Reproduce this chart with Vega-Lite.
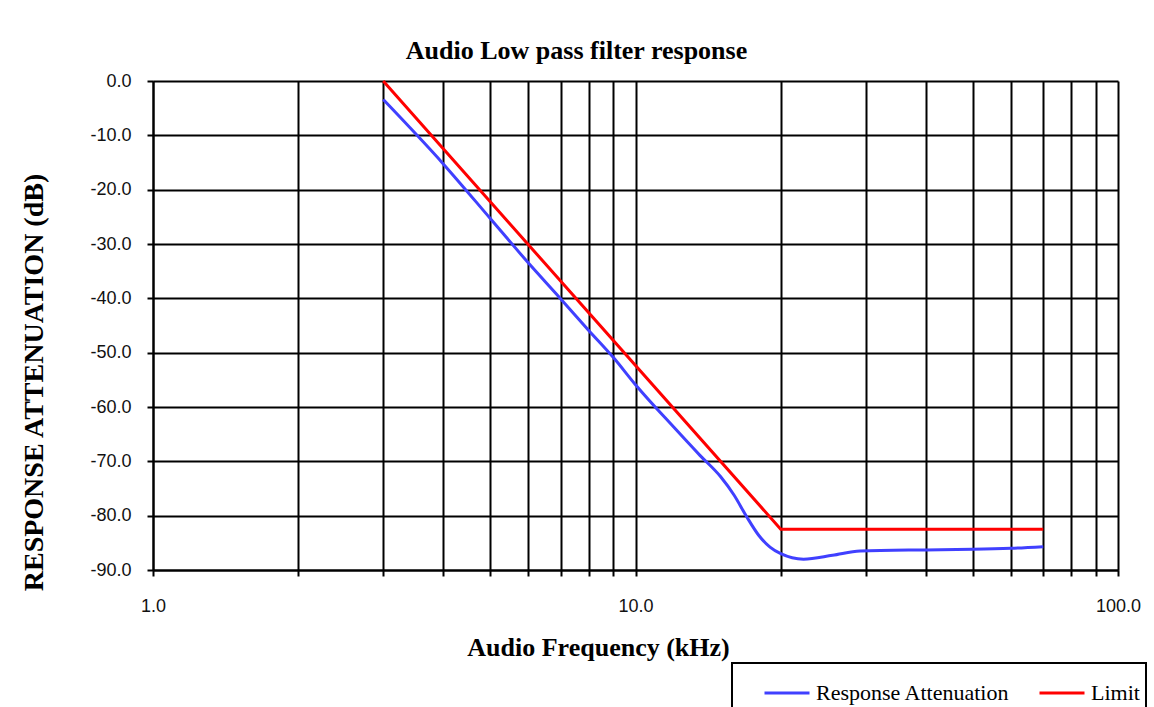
{
  "$schema": "https://vega.github.io/schema/vega-lite/v6.json",
  "width": 965,
  "height": 489,
  "autosize": {"type": "none"},
  "padding": {"left": 153, "top": 81, "right": 36, "bottom": 137},
  "background": "white",
  "title": {
    "text": "Audio Low pass filter response",
    "font": "Liberation Serif",
    "fontSize": 26,
    "fontWeight": "bold",
    "color": "#000000",
    "anchor": "middle",
    "dx": -59,
    "offset": 8
  },
  "data": {
    "values": [
      {"freq": 3, "dB": -3.4, "series": "Response Attenuation"},
      {"freq": 4, "dB": -15.3, "series": "Response Attenuation"},
      {"freq": 5, "dB": -25.3, "series": "Response Attenuation"},
      {"freq": 6, "dB": -33.5, "series": "Response Attenuation"},
      {"freq": 7, "dB": -40.1, "series": "Response Attenuation"},
      {"freq": 8, "dB": -45.9, "series": "Response Attenuation"},
      {"freq": 9, "dB": -50.9, "series": "Response Attenuation"},
      {"freq": 10, "dB": -55.9, "series": "Response Attenuation"},
      {"freq": 12, "dB": -63.7, "series": "Response Attenuation"},
      {"freq": 13.6, "dB": -68.9, "series": "Response Attenuation"},
      {"freq": 15.0, "dB": -72.8, "series": "Response Attenuation"},
      {"freq": 16.0, "dB": -76.2, "series": "Response Attenuation"},
      {"freq": 17.0, "dB": -80.2, "series": "Response Attenuation"},
      {"freq": 18.0, "dB": -83.6, "series": "Response Attenuation"},
      {"freq": 19.0, "dB": -85.8, "series": "Response Attenuation"},
      {"freq": 20, "dB": -87.0, "series": "Response Attenuation"},
      {"freq": 22.3, "dB": -88.0, "series": "Response Attenuation"},
      {"freq": 25.6, "dB": -87.3, "series": "Response Attenuation"},
      {"freq": 29.2, "dB": -86.5, "series": "Response Attenuation"},
      {"freq": 40, "dB": -86.3, "series": "Response Attenuation"},
      {"freq": 50, "dB": -86.2, "series": "Response Attenuation"},
      {"freq": 60, "dB": -86.0, "series": "Response Attenuation"},
      {"freq": 70, "dB": -85.7, "series": "Response Attenuation"},
      {"freq": 3, "dB": 0, "series": "Limit"},
      {"freq": 20, "dB": -82.5, "series": "Limit"},
      {"freq": 70, "dB": -82.5, "series": "Limit"}
    ]
  },
  "encoding": {
    "x": {
      "field": "freq",
      "type": "quantitative",
      "scale": {"type": "log", "domain": [1, 100], "nice": false},
      "axis": {
        "values": [1, 2, 3, 4, 5, 6, 7, 8, 9, 10, 20, 30, 40, 50, 60, 70, 80, 90, 100],
        "labelExpr": "(datum.value == 1 || datum.value == 10 || datum.value == 100) ? format(datum.value, '.1f') : ''",
        "grid": true,
        "gridColor": "#000000",
        "gridWidth": 2,
        "gridOpacity": 1,
        "domainColor": "#000000",
        "domainWidth": 2,
        "tickColor": "#000000",
        "tickWidth": 2,
        "tickSize": 6,
        "labelFont": "Liberation Sans",
        "labelFontSize": 18,
        "labelColor": "#111111",
        "labelPadding": 21,
        "labelOverlap": false,
        "labelFlush": false,
        "title": "Audio Frequency (kHz)",
        "titleFont": "Liberation Serif",
        "titleFontSize": 26,
        "titleFontWeight": "bold",
        "titleColor": "#000000",
        "titleX": 445,
        "titleY": 85,
        "titleAlign": "center",
        "titleBaseline": "alphabetic"
      }
    },
    "y": {
      "field": "dB",
      "type": "quantitative",
      "scale": {"domain": [-90, 0], "nice": false},
      "axis": {
        "values": [-90, -80, -70, -60, -50, -40, -30, -20, -10, 0],
        "labelExpr": "datum.value == 0 ? '0.0' : '-' + format(-datum.value, '.1f')",
        "grid": true,
        "gridColor": "#000000",
        "gridWidth": 2,
        "gridOpacity": 1,
        "domainColor": "#000000",
        "domainWidth": 2,
        "tickColor": "#000000",
        "tickWidth": 2,
        "tickSize": 6,
        "labelFont": "Liberation Sans",
        "labelFontSize": 18,
        "labelColor": "#111111",
        "labelPadding": 16,
        "labelOverlap": false,
        "labelFlush": false,
        "title": "RESPONSE ATTENUATION (dB)",
        "titleFont": "Liberation Serif",
        "titleFontSize": 28,
        "titleFontWeight": "bold",
        "titleColor": "#000000",
        "titleAngle": -90,
        "titleX": -111,
        "titleY": 301,
        "titleAlign": "center",
        "titleBaseline": "alphabetic"
      }
    },
    "color": {
      "field": "series",
      "type": "nominal",
      "scale": {"domain": ["Response Attenuation", "Limit"], "range": ["#4040FF", "#FF0000"]},
      "legend": {
        "orient": "none",
        "legendX": 579,
        "legendY": 582,
        "direction": "horizontal",
        "columns": 2,
        "gridAlign": "all",
        "title": null,
        "symbolType": "stroke",
        "symbolSize": 2025,
        "symbolStrokeWidth": 3,
        "symbolOffset": 25,
        "labelFont": "Liberation Serif",
        "labelFontSize": 22,
        "labelColor": "#000000",
        "labelOffset": 5,
        "labelLimit": 400,
        "columnPadding": 3,
        "padding": 6,
        "strokeColor": "#000000",
        "fillColor": "#FFFFFF",
        "encode": {"legend": {"update": {"strokeWidth": {"value": 2}}}}
      }
    }
  },
  "layer": [
    {
      "transform": [{"filter": "datum.series == 'Limit'"}],
      "mark": {"type": "line", "strokeWidth": 3}
    },
    {
      "transform": [{"filter": "datum.series == 'Response Attenuation'"}],
      "mark": {"type": "line", "interpolate": "monotone", "strokeWidth": 3}
    }
  ],
  "config": {"view": {"stroke": null}}
}
